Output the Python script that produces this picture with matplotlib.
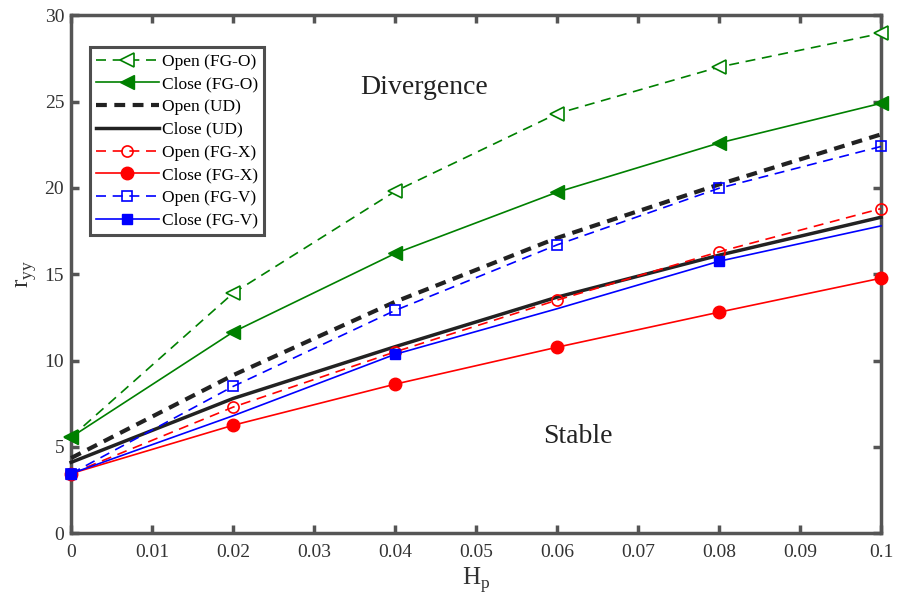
import matplotlib
matplotlib.use("Agg")
import matplotlib.pyplot as plt
import numpy as np

plt.rcParams['font.family'] = ['Liberation Serif', 'DejaVu Serif']

hp = [0, 0.02, 0.04, 0.06, 0.08, 0.1]

open_fgo = [5.56, 13.9, 19.8, 24.3, 27.0, 28.95]
close_fgo = [5.56, 11.65, 16.2, 19.75, 22.6, 24.9]
open_ud = [4.35, 9.15, 13.4, 17.1, 20.2, 23.1]
close_ud = [4.1, 7.8, 10.8, 13.67, 16.1, 18.3]
open_fgx = [3.45, 7.3, 10.5, 13.5, 16.3, 18.8]
close_fgx = [3.45, 6.25, 8.63, 10.77, 12.8, 14.77]
open_fgv = [3.45, 8.5, 12.9, 16.7, 19.98, 22.4]
close_fgv = [3.45, 6.8, 10.36, 13.0, 15.75, 17.8]

green = '#008000'
spine_col = '#555555'
thin_dash = (0, (6, 4))

fig = plt.figure(figsize=(9, 6.1), dpi=100)
ax = fig.add_axes([0.079, 0.126, 0.9, 0.849])

ax.plot(hp, open_fgo, ls=thin_dash, color=green, lw=1.2, marker='<', ms=10,
        mfc='white', mec=green, mew=1.2, clip_on=False, label='Open (FG-O)')
ax.plot(hp, close_fgo, '-', color=green, lw=1.2, marker='<', ms=10,
        mfc=green, mec=green, clip_on=False, label='Close (FG-O)')
ax.plot(hp, open_ud, ls=(0, (2.6, 1.8)), color='#222222', lw=3,
        clip_on=False, label='Open (UD)')
ax.plot(hp, close_ud, '-', color='#222222', lw=2.5, clip_on=False,
        label='Close (UD)')
ax.plot(hp, open_fgx, ls=thin_dash, color='red', lw=1.2, marker='o', ms=8,
        mfc='none', mec='red', mew=1.2, clip_on=False, label='Open (FG-X)')
ax.plot(hp, close_fgx, '-', color='red', lw=1.2, marker='o', ms=9,
        mfc='red', mec='red', clip_on=False, label='Close (FG-X)')
ax.plot(hp, open_fgv, ls=thin_dash, color='blue', lw=1.2, marker='s', ms=7,
        mfc='none', mec='blue', mew=1.2, clip_on=False, label='Open (FG-V)')
ax.plot(hp, close_fgv, '-', color='blue', lw=1.2, marker='s', ms=7,
        mfc='blue', mec='blue', markevery=[0, 2, 4], clip_on=False,
        label='Close (FG-V)')

ax.set_xlim(0, 0.1)
ax.set_ylim(0, 30)
ax.set_xticks(np.arange(0, 0.101, 0.01))
ax.set_xticklabels(['0', '0.01', '0.02', '0.03', '0.04', '0.05', '0.06',
                    '0.07', '0.08', '0.09', '0.1'])
ax.set_yticks(np.arange(0, 31, 5))

for s in ax.spines.values():
    s.set_color(spine_col)
    s.set_linewidth(2.5)
    s.set_zorder(1)
ax.tick_params(direction='in', top=True, right=True, length=6, width=2.5,
               color=spine_col, labelsize=14, labelcolor='#333333', pad=8)
ax.tick_params(axis='y', pad=5)

ax.set_xlabel('H$_\\mathregular{p}$', fontsize=18, color='#333333', labelpad=3)
ax.set_ylabel('r$_\\mathregular{yy}$', fontsize=18, color='#333333')

ax.text(0.0436, 25.8, 'Divergence', fontsize=20, ha='center', va='center',
        color='#222222')
ax.text(0.0626, 5.6, 'Stable', fontsize=20, ha='center', va='center',
        color='#222222')

leg = ax.legend(loc='upper left', fontsize=12.5, frameon=True, fancybox=False,
                handlelength=3.6, handletextpad=0.2, labelspacing=0.38,
                borderpad=0.35, borderaxespad=0,
                bbox_to_anchor=(0.0235, 0.938))
leg.get_frame().set_edgecolor('#222222')
leg.get_frame().set_linewidth(2.2)
leg.set_zorder(5)

fig.savefig('out.png', dpi=100)
